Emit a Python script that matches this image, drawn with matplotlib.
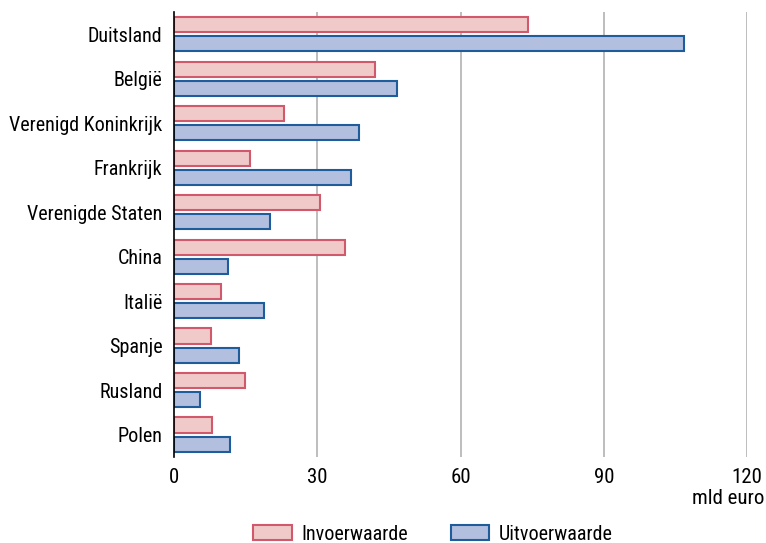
import matplotlib
matplotlib.use("Agg")
import matplotlib.pyplot as plt
from matplotlib.patches import Patch
import numpy as np

plt.rcParams['font.family'] = ['Roboto Condensed', 'Liberation Sans Narrow',
                               'Liberation Sans', 'DejaVu Sans']

landen = ["Duitsland", "België", "Verenigd Koninkrijk", "Frankrijk",
          "Verenigde Staten", "China", "Italië", "Spanje", "Rusland", "Polen"]
invoer = [74.1, 42.2, 23.1, 16.0, 30.6, 35.9, 9.8, 7.8, 15.0, 8.0]
uitvoer = [106.8, 46.8, 38.7, 37.1, 20.1, 11.4, 18.9, 13.6, 5.4, 11.7]
xticks = [0, 30, 60, 90, 120]

c_in_fill, c_in_edge = "#f0c9c9", "#d0596c"
c_uit_fill, c_uit_edge = "#b3bfdf", "#1f5c9c"

fig = plt.figure(figsize=(7.66, 5.43), dpi=100)
ax = fig.add_axes([0.2268, 0.1584, 0.7488, 0.8195])

y = np.arange(len(landen))
h = 0.345
off = 0.215
ax.barh(y - off, invoer, height=h, color=c_in_fill, edgecolor=c_in_edge,
        linewidth=1.5, zorder=3, label="Invoerwaarde")
ax.barh(y + off, uitvoer, height=h, color=c_uit_fill, edgecolor=c_uit_edge,
        linewidth=1.5, zorder=3, label="Uitvoerwaarde")

ax.set_xlim(0, 120)
ax.set_ylim(len(landen) - 0.5, -0.5)
ax.set_yticks(y)
ax.set_yticklabels(landen, fontsize=14.5)
ax.set_xticks(xticks)
ax.set_xticklabels([str(t) for t in xticks], fontsize=15)
ax.tick_params(axis='y', length=0, pad=8)
ax.tick_params(axis='x', length=0, pad=8)

for t in xticks[1:]:
    ax.axvline(t, color="#bdbdbd", linewidth=1.4, zorder=1)

for s in ["top", "right", "bottom"]:
    ax.spines[s].set_visible(False)
ax.spines["left"].set_color("black")
ax.spines["left"].set_linewidth(1.2)
ax.spines["left"].set_zorder(4)

fig.text(764 / 766, 1 - 498 / 543, "mld euro", ha="right", va="center", fontsize=15)

handles = [Patch(facecolor=c_in_fill, edgecolor=c_in_edge, linewidth=1.5, label="Invoerwaarde"),
           Patch(facecolor=c_uit_fill, edgecolor=c_uit_edge, linewidth=1.5, label="Uitvoerwaarde")]
fig.legend(handles=handles, loc="center", bbox_to_anchor=(433 / 766, 1 - 534 / 543),
           ncol=2, frameon=False, fontsize=14.5, handlelength=1.9, handleheight=0.7,
           columnspacing=2.1, handletextpad=0.5, borderpad=0.1)

fig.savefig("out.png", dpi=100)
